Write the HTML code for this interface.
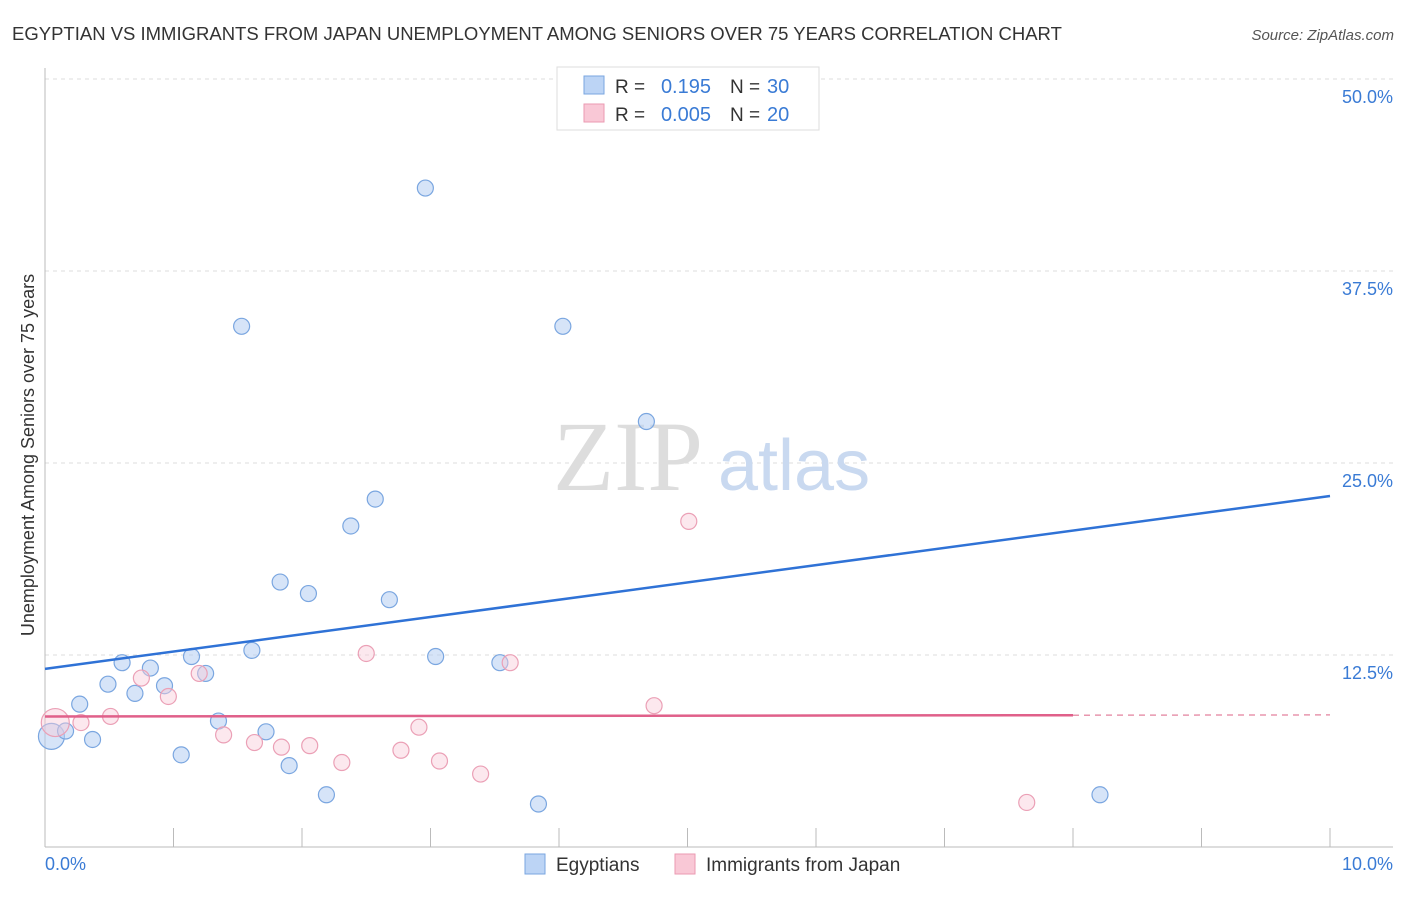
<!DOCTYPE html>
<html><head><meta charset="utf-8"><style>
body{margin:0;background:#fff;font-family:"Liberation Sans",sans-serif;}
</style></head><body>
<svg width="1406" height="892" xmlns="http://www.w3.org/2000/svg" font-family="Liberation Sans, sans-serif">
<text x="12" y="40" font-size="18.5" fill="#333">EGYPTIAN VS IMMIGRANTS FROM JAPAN UNEMPLOYMENT AMONG SENIORS OVER 75 YEARS CORRELATION CHART</text>
<text x="1394" y="40" font-size="15" fill="#555" font-style="italic" text-anchor="end">Source: ZipAtlas.com</text>
<g id="grid"></g>
<text x="553" y="490" font-size="100" fill="#ddd" style="font-family:'Liberation Serif',serif">ZIP</text>
<text x="718" y="490" font-size="72" fill="#c9d9f0">atlas</text>
<g id="axes"></g>
<g id="marks"></g>
<text x="34" y="455" font-size="18" fill="#333" text-anchor="middle" transform="rotate(-90 34 455)">Unemployment Among Seniors over 75 years</text>
<g>
<rect x="557" y="67" width="262" height="63" fill="#fff" stroke="#ddd"/>
<rect x="584" y="76" width="20" height="18" fill="#bcd4f5" stroke="#7aa6e0"/>
<rect x="584" y="104" width="20" height="18" fill="#f9c8d6" stroke="#eb9ab2"/>
<text x="615" y="93" font-size="19" fill="#333">R =</text>
<text x="711" y="93" font-size="20" fill="#3a7bd5" text-anchor="end">0.195</text>
<text x="730" y="93" font-size="19" fill="#333">N =</text>
<text x="767" y="93" font-size="20" fill="#3a7bd5">30</text>
<text x="615" y="121" font-size="19" fill="#333">R =</text>
<text x="711" y="121" font-size="20" fill="#3a7bd5" text-anchor="end">0.005</text>
<text x="730" y="121" font-size="19" fill="#333">N =</text>
<text x="767" y="121" font-size="20" fill="#3a7bd5">20</text>
</g>
<g>
<rect x="525" y="854" width="20" height="20" fill="#bcd4f5" stroke="#7aa6e0"/>
<text x="556" y="871" font-size="19" fill="#333">Egyptians</text>
<rect x="675" y="854" width="20" height="20" fill="#f9c8d6" stroke="#eb9ab2"/>
<text x="706" y="871" font-size="19" fill="#333">Immigrants from Japan</text>
</g>
</svg>
<script>
const yTicks=[12.5,25,37.5,50];
const yTickLabels=["12.5%","25.0%","37.5%","50.0%"];
const blueX=[0.05,0.16,0.27,0.37,0.49,0.60,0.70,0.82,0.93,1.06,1.14,1.25,1.35,1.53,1.61,1.72,1.83,1.90,2.05,2.19,2.38,2.57,2.68,2.96,3.04,3.54,3.84,4.03,4.68,8.21];
const blueY=[7.2,7.55,9.3,7.0,10.6,12.0,10.0,11.65,10.5,6.0,12.4,11.3,8.2,33.9,12.8,7.5,17.25,5.3,16.5,3.4,20.9,22.65,16.1,42.9,12.4,12.0,2.8,33.9,27.7,3.4];
const pinkX=[0.08,0.28,0.51,0.75,0.96,1.20,1.39,1.63,1.84,2.06,2.31,2.50,2.77,2.91,3.07,3.39,3.62,4.74,5.01,7.64];
const pinkY=[8.1,8.1,8.5,11.0,9.8,11.3,7.3,6.8,6.5,6.6,5.5,12.6,6.3,7.8,5.6,4.75,12.0,9.2,21.2,2.9];
const blueTrend=[11.6,22.85];
const pinkTrend=[8.5,8.6];
const pinkSolidEnd=8.0;
const NS="http://www.w3.org/2000/svg";
const X=v=>45+v*128.5, Y=v=>847-v*15.36;
function mk(p,t,a){const e=document.createElementNS(NS,t);for(const k in a)e.setAttribute(k,a[k]);document.getElementById(p).appendChild(e);return e;}
yTicks.forEach((t,i)=>{
 let l=mk('grid','line',{x1:45,x2:1393,y1:Y(t),y2:Y(t),stroke:'#ddd','stroke-dasharray':'4,4'});
 
 
 let tx=mk('axes','text',{x:1393,y:Y(t)+24,'font-size':18,fill:'#3a7bd5','text-anchor':'end'});
 tx.textContent=yTickLabels[i];
 
 
});
mk('axes','line',{x1:45,x2:45,y1:68,y2:847,stroke:'#bbb'});
mk('axes','line',{x1:45,x2:1393,y1:847,y2:847,stroke:'#bbb'});
for(let i=1;i<=10;i++){let l=mk('axes','line',{x1:X(i),x2:X(i),y1:828,y2:847,stroke:'#bbb'});}
let a=mk('axes','text',{x:45,y:870,'font-size':18,fill:'#3a7bd5'});a.textContent='0.0%';

let b=mk('axes','text',{x:1393,y:870,'font-size':18,fill:'#3a7bd5','text-anchor':'end'});b.textContent='10.0%';

blueX.forEach((x,i)=>{let c=mk('marks','circle',{cx:X(x),cy:Y(blueY[i]),r:i==0?13:8,fill:'rgba(180,206,242,0.55)',stroke:'#7aa6e0','stroke-width':1.2});
});
pinkX.forEach((x,i)=>{let c=mk('marks','circle',{cx:X(x),cy:Y(pinkY[i]),r:i==0?14:8,fill:'rgba(249,205,218,0.45)',stroke:'#eba0b6','stroke-width':1.2});
});
let t1=mk('marks','line',{x1:X(0),y1:Y(blueTrend[0]),x2:X(10),y2:Y(blueTrend[1]),stroke:'#2f72d6','stroke-width':2.5});

const pm=pinkTrend[0]+(pinkTrend[1]-pinkTrend[0])*pinkSolidEnd/10;
let t2=mk('marks','line',{x1:X(0),y1:Y(pinkTrend[0]),x2:X(pinkSolidEnd),y2:Y(pm),stroke:'#e0608a','stroke-width':2.5});

let t3=mk('marks','line',{x1:X(pinkSolidEnd),y1:Y(pm),x2:X(10),y2:Y(pinkTrend[1]),stroke:'#e896ae','stroke-width':1.5,'stroke-dasharray':'6,5'});

</script>
</body></html>
